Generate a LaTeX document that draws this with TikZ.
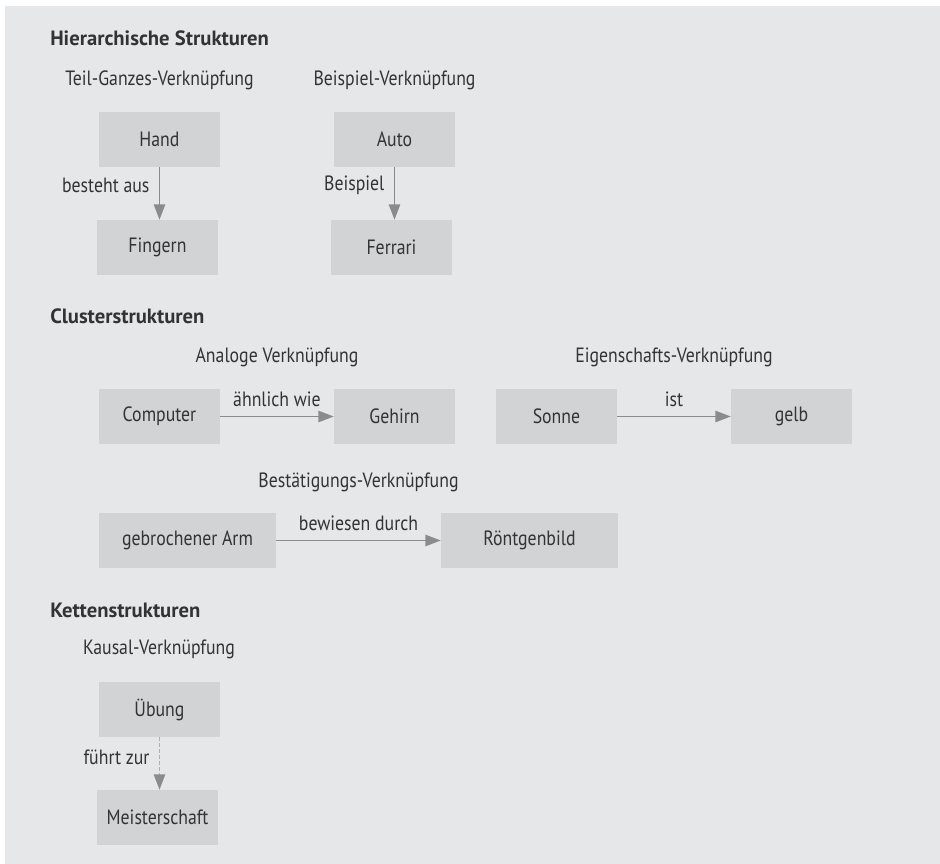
\documentclass[tikz,border=0pt]{standalone}
\usepackage{fontspec}
\setmainfont{PT Sans}[FakeStretch=0.86]
\newfontfamily\headfont{PT Sans}
\usepackage{tikz}
\usetikzlibrary{arrows.meta}
\usepackage{xcolor}
\definecolor{panelgray}{RGB}{230,231,232}
\definecolor{boxgray}{RGB}{209,211,212}
\definecolor{arrowgray}{RGB}{138,139,141}
\definecolor{dashgray}{RGB}{175,176,178}
\definecolor{textgray}{RGB}{51,51,51}

\begin{document}
\begin{tikzpicture}[x=0.75pt,y=0.75pt,yscale=-1,xscale=1,
  font=\fontsize{15.5}{18}\selectfont, text=textgray,
  conceptbox/.style={fill=boxgray, minimum width=90.75pt, minimum height=41.25pt, inner sep=0pt},
  widebox/.style={conceptbox, minimum width=132.75pt},
  heading/.style={anchor=west, inner sep=0pt, font=\fontsize{15.5}{18}\selectfont\headfont\bfseries},
  subtitle/.style={inner sep=0pt},
  link/.style={draw=arrowgray, line width=1.1pt, -{Triangle[length=11.5pt,width=8.5pt]}},
  causallink/.style={draw=dashgray, line width=1.1pt, dash pattern=on 2.5pt off 2pt, -{Triangle[length=11.5pt,width=8.5pt,color=arrowgray,fill=arrowgray]}},
  edgelabel/.style={inner sep=7pt}]
\path (0,0) rectangle (940,864); %set diagram size

%Shape: Rectangle [id:panel]
\fill [panelgray] (5,6) rectangle (940,864);

% Text Node
\node [heading] (hierTitle) at (50,38) {Hierarchische Strukturen};
% Text Node
\node [subtitle] (teilTitle) at (159.5,80) {Teil-Ganzes-Verknüpfung};
% Text Node
\node [subtitle] (beispielTitle) at (394.5,80) {Beispiel-Verknüpfung};

%Shape: Rectangle [id:hand]
\node [conceptbox] (hand) at (159.5,139.5) {Hand};
%Shape: Rectangle [id:fingern]
\node [conceptbox] (fingern) at (157.5,247.5) {Fingern};
%Shape: Rectangle [id:auto]
\node [conceptbox] (auto) at (394.5,139.5) {Auto};
%Shape: Rectangle [id:ferrari]
\node [conceptbox] (ferrari) at (391.5,247.5) {Ferrari};

%Straight Lines [id:handFingern]
\draw [link] (hand.south) -- (hand.south |- fingern.north) node [edgelabel, left, pos=0.35] (bestehtLabel) {besteht aus};
%Straight Lines [id:autoFerrari]
\draw [link] (auto.south) -- (auto.south |- ferrari.north) node [edgelabel, left, pos=0.35] (beispielLabel) {Beispiel};

% Text Node
\node [heading] (clusterTitle) at (50,316) {Clusterstrukturen};
% Text Node
\node [subtitle] (analogTitle) at (277,357) {Analoge Verknüpfung};
% Text Node
\node [subtitle] (eigenTitle) at (674,357) {Eigenschafts-Verknüpfung};

%Shape: Rectangle [id:computer]
\node [conceptbox] (computer) at (159.5,416.5) {Computer};
%Shape: Rectangle [id:gehirn]
\node [conceptbox] (gehirn) at (394.5,416.5) {Gehirn};
%Shape: Rectangle [id:sonne]
\node [conceptbox] (sonne) at (556.5,416.5) {Sonne};
%Shape: Rectangle [id:gelb]
\node [conceptbox] (gelb) at (791.5,416.5) {gelb};

%Straight Lines [id:computerGehirn]
\draw [link] (computer.east) -- (gehirn.west) node [edgelabel, above, midway] (aehnlichLabel) {ähnlich wie};
%Straight Lines [id:sonneGelb]
\draw [link] (sonne.east) -- (gelb.west) node [edgelabel, above, midway] (istLabel) {ist};

% Text Node
\node [subtitle] (bestTitle) at (358.5,482) {Bestätigungs-Verknüpfung};

%Shape: Rectangle [id:arm]
\node [widebox] (arm) at (187.5,540.5) {gebrochener Arm};
%Shape: Rectangle [id:roentgen]
\node [widebox] (roentgen) at (529.5,540.5) {Röntgenbild};

%Straight Lines [id:armRoentgen]
\draw [link] (arm.east) -- (roentgen.west) node [edgelabel, above, midway] (bewiesenLabel) {bewiesen durch};

% Text Node
\node [heading] (ketteTitle) at (50,610) {Kettenstrukturen};
% Text Node
\node [subtitle] (kausalTitle) at (159,649) {Kausal-Verknüpfung};

%Shape: Rectangle [id:uebung]
\node [conceptbox] (uebung) at (159.5,709.5) {Übung};
%Shape: Rectangle [id:meister]
\node [conceptbox] (meister) at (157.5,817.5) {Meisterschaft};

%Dashed Lines [id:uebungMeister]
\draw [causallink] (uebung.south) -- (uebung.south |- meister.north) node [edgelabel, left, pos=0.38] (fuehrtLabel) {führt zur};

\end{tikzpicture}
\end{document}
